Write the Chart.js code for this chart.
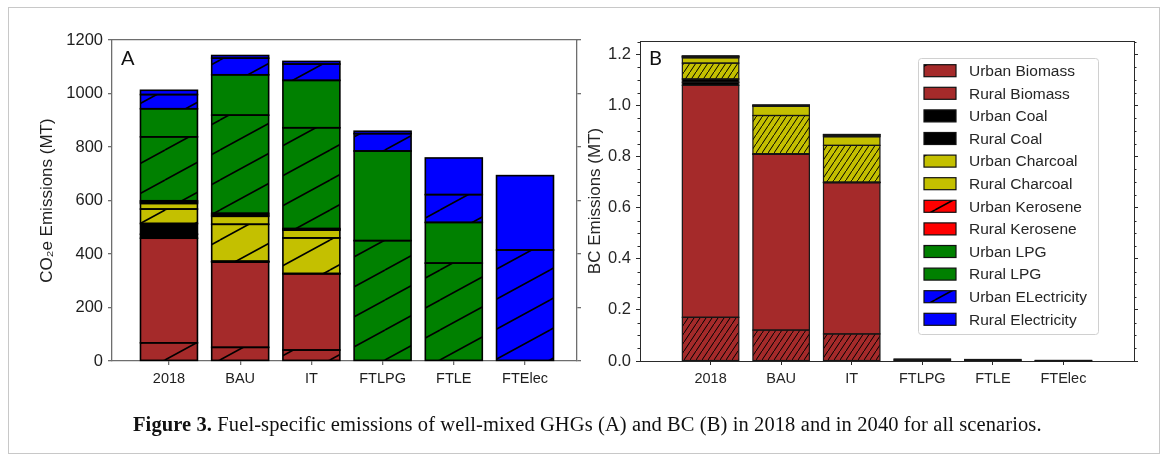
<!DOCTYPE html>
<html>
<head>
<meta charset="utf-8">
<script src="https://cdn.jsdelivr.net/npm/chart.js@4.4.1/dist/chart.umd.min.js"></script>
<style>
  html, body { margin: 0; padding: 0; background: #fff; }
  body { width: 1168px; height: 461px; position: relative; overflow: hidden; font-family: "Liberation Sans", Arial, sans-serif; }
  .frame { position: absolute; left: 8px; top: 7px; width: 1152px; height: 447px; border: 1px solid #c8c8c8; box-sizing: border-box; }
  .layer { position: absolute; left: 0; top: 0; width: 1168px; height: 461px; }
  .tag { position: absolute; font-family: Lato, "Open Sans", sans-serif; font-size: 20px; line-height: 20px; color: #111; }
  .caption { position: absolute; left: 133px; top: 412px; font-family: "Liberation Serif", "DejaVu Serif", serif; font-size: 20.5px; letter-spacing: 0.1px; line-height: 24px; color: #111; white-space: nowrap; }
</style>
</head>
<body>
<div class="frame"></div>
<div class="layer"><canvas id="chartA" width="1168" height="461"></canvas></div>
<div class="layer"><canvas id="chartB" width="1168" height="461"></canvas></div>
<div class="tag" style="left:121px; top:47px;">A</div>
<div class="tag" style="left:649px; top:47px;">B</div>
<div class="caption"><b>Figure 3.</b> Fuel-specific emissions of well-mixed GHGs (A) and BC (B) in 2018 and in 2040 for all scenarios.</div>

<script>
// ---- categories and labels ----
const categories = ['2018', 'BAU', 'IT', 'FTLPG', 'FTLE', 'FTElec'];
const fuelLabels = ['Urban Biomass', 'Rural Biomass', 'Urban Coal', 'Rural Coal',
                    'Urban Charcoal', 'Rural Charcoal', 'Urban Kerosene', 'Rural Kerosene',
                    'Urban LPG', 'Rural LPG', 'Urban ELectricity', 'Rural Electricity'];
const co2Ticks = [0, 200, 400, 600, 800, 1000, 1200];
const bcTicks = [0, 0.2, 0.4, 0.6, 0.8, 1.0, 1.2];

// ---- CO2e emissions (MT), panel A ----
const urbanBiomassCO2   = [68, 51, 41, 0, 0, 0];
const ruralBiomassCO2   = [391, 319, 285, 0, 0, 0];
const urbanCoalCO2      = [15, 1, 0, 0, 0, 0];
const ruralCoalCO2      = [40, 2, 1, 0, 0, 0];
const urbanCharcoalCO2  = [54, 138, 133, 0, 0, 0];
const ruralCharcoalCO2  = [21, 30, 29, 0, 0, 0];
const urbanKeroseneCO2  = [5, 5, 3, 0, 0, 0];
const ruralKeroseneCO2  = [5, 6, 3, 0, 0, 0];
const urbanLPGCO2       = [239, 367, 377, 450, 366, 0];
const ruralLPGCO2       = [105, 151, 177, 335, 152, 0];
const urbanElecCO2      = [53, 62, 61, 65, 104, 415];
const ruralElecCO2      = [16, 10, 10, 9, 137, 278];

// ---- BC emissions (MT), panel B ----
const urbanBiomassBC    = [0.171, 0.121, 0.106, 0, 0, 0];
const ruralBiomassBC    = [0.908, 0.688, 0.592, 0, 0, 0];
const urbanCoalBC       = [0.012, 0.001, 0.001, 0, 0, 0];
const ruralCoalBC       = [0.013, 0.001, 0.001, 0, 0, 0];
const urbanCharcoalBC   = [0.062, 0.150, 0.144, 0, 0, 0];
const ruralCharcoalBC   = [0.021, 0.036, 0.034, 0, 0, 0];
const urbanKeroseneBC   = [0.003, 0.002, 0.003, 0, 0, 0];
const ruralKeroseneBC   = [0.003, 0.002, 0.004, 0, 0, 0];
const urbanLPGBC        = [0.0005, 0.0005, 0.001, 0.004, 0.003, 0];
const ruralLPGBC        = [0.0005, 0.0005, 0.001, 0.004, 0.003, 0];
const urbanElecBC       = [0, 0, 0, 0, 0, 0.001];
const ruralElecBC       = [0, 0, 0, 0, 0, 0.001];

const co2Series = [urbanBiomassCO2, ruralBiomassCO2, urbanCoalCO2, ruralCoalCO2,
                   urbanCharcoalCO2, ruralCharcoalCO2, urbanKeroseneCO2, ruralKeroseneCO2,
                   urbanLPGCO2, ruralLPGCO2, urbanElecCO2, ruralElecCO2];
const bcSeries = [urbanBiomassBC, ruralBiomassBC, urbanCoalBC, ruralCoalBC,
                  urbanCharcoalBC, ruralCharcoalBC, urbanKeroseneBC, ruralKeroseneBC,
                  urbanLPGBC, ruralLPGBC, urbanElecBC, ruralElecBC];

// ---- styling ----
const fuelColors = ['#a52a2a', '#a52a2a', '#000000', '#000000', '#c4c000', '#c4c000',
                    '#ff0000', '#ff0000', '#008000', '#008000', '#0000ff', '#0000ff'];
const FONT = "'Liberation Sans', Arial, sans-serif";
Chart.defaults.font.family = FONT;

// diagonal hatch tile: one line from bottom-left to top-right per tile
function makeHatch(color, w, h, lw) {
  const c = document.createElement('canvas');
  c.width = w; c.height = h;
  const g = c.getContext('2d');
  g.fillStyle = color;
  g.fillRect(0, 0, w, h);
  g.strokeStyle = '#000';
  g.lineWidth = lw;
  g.beginPath();
  for (const k of [-1, 0, 1]) {
    g.moveTo(0, h + k * h);
    g.lineTo(w, k * h);
  }
  g.stroke();
  return g.createPattern(c, 'repeat');
}
const sparseHatch = (col) => makeHatch(col, 55, 30, 1.6);
const denseHatch = (col) => makeHatch(col, 6, 9, 1);

function buildDatasets(series, hatchFn) {
  return fuelLabels.map((label, k) => ({
    label,
    data: series[k].map((v, i) => ({ x: i, y: v })),
    backgroundColor: label.startsWith('Urban') ? hatchFn(fuelColors[k]) : fuelColors[k],
    legendFill: label.startsWith('Urban') ? sparseHatch(fuelColors[k]) : fuelColors[k],
    borderWidth: 0,
    inflateAmount: 0,
    barPercentage: 0.8,
    categoryPercentage: 1.0
  }));
}

function fixedTicks(values) {
  return (scale) => { scale.ticks = values.map(v => ({ value: v })); };
}

function makeScales(cfg) {
  const ax = cfg.axisColor;
  return {
    x: {
      type: 'linear', position: 'bottom', stacked: true, offset: false,
      min: cfg.xMin, max: cfg.xMax,
      afterBuildTicks: fixedTicks(categories.map((_, i) => i)),
      afterFit: (s) => { s.height = 30; },
      ticks: { callback: (v) => categories[v], autoSkip: false, maxRotation: 0, padding: 5,
               color: cfg.textColor, font: { size: 14.5 } },
      grid: { offset: false, drawOnChartArea: false, drawTicks: true, tickLength: 4, color: ax, lineWidth: cfg.axisWidth },
      border: { display: true, color: ax, width: cfg.axisWidth }
    },
    xTop: {
      type: 'linear', position: 'top', min: cfg.xMin, max: cfg.xMax, offset: false,
      afterFit: (s) => { s.height = 0; },
      ticks: { display: false },
      grid: { display: false },
      border: { display: true, color: ax, width: cfg.axisWidth }
    },
    y: {
      type: 'linear', position: 'left', stacked: true,
      min: 0, max: cfg.yMax,
      afterBuildTicks: fixedTicks(cfg.yTicks),
      afterFit: (s) => { s.width = cfg.yWidth; },
      title: { display: true, text: cfg.yTitle, color: cfg.textColor, font: { size: 17 }, padding: { top: 4, bottom: 4 } },
      ticks: { callback: cfg.tickFmt, padding: 5, color: cfg.textColor, font: { size: 16.5 } },
      grid: { drawOnChartArea: false, drawTicks: true, tickLength: 4, color: ax, lineWidth: cfg.axisWidth },
      border: { display: true, color: ax, width: cfg.axisWidth }
    },
    yRight: {
      type: 'linear', position: 'right',
      min: 0, max: cfg.yMax,
      afterBuildTicks: fixedTicks(cfg.yTicks),
      afterFit: (s) => { s.width = 10; },
      ticks: { display: false },
      grid: { drawOnChartArea: false, drawTicks: true, tickLength: 4, color: ax, lineWidth: cfg.axisWidth },
      border: { display: true, color: ax, width: cfg.axisWidth }
    }
  };
}

// outline every non-empty bar segment with a centred edge line
const barEdges = {
  id: 'barEdges',
  afterDatasetsDraw(chart, args, opts) {
    const ctx = chart.ctx;
    ctx.save();
    ctx.strokeStyle = opts.color;
    ctx.lineWidth = opts.width;
    chart.data.datasets.forEach((ds, i) => {
      const meta = chart.getDatasetMeta(i);
      meta.data.forEach((bar, j) => {
        if (!ds.data[j].y) return;
        const { x, y, base, width } = bar.getProps(['x', 'y', 'base', 'width'], true);
        ctx.strokeRect(x - width / 2, Math.min(y, base), width, Math.abs(base - y));
      });
    });
    ctx.restore();
  }
};

// small minor tick marks on both vertical axes of panel B
const minorTicks = {
  id: 'minorTicks',
  afterDraw(chart, args, opts) {
    if (!opts.step) return;
    const { ctx, chartArea, scales } = chart;
    const y = scales.y;
    ctx.save();
    ctx.strokeStyle = opts.color;
    ctx.lineWidth = 1;
    for (let v = opts.step; v < y.max; v += opts.step) {
      const r = Math.round(v / 0.2 * 1000) / 1000;
      if (Math.abs(r - Math.round(r)) < 1e-6) continue;
      const py = Math.round(y.getPixelForValue(v)) + 0.5;
      ctx.beginPath();
      ctx.moveTo(chartArea.left - 2.5, py); ctx.lineTo(chartArea.left, py);
      ctx.moveTo(chartArea.right, py); ctx.lineTo(chartArea.right + 2.5, py);
      ctx.stroke();
    }
    ctx.restore();
  }
};

// boxed legend drawn inside panel B
const boxLegend = {
  id: 'boxLegend',
  afterDraw(chart, args, opts) {
    if (!opts.show) return;
    const ctx = chart.ctx;
    const { x, y, w, h, rowH, firstRow, swX, swW, swH, textX } = opts;
    ctx.save();
    ctx.fillStyle = 'rgba(255,255,255,0.85)';
    ctx.strokeStyle = '#d0d0d0';
    ctx.lineWidth = 1;
    ctx.beginPath();
    ctx.roundRect(x + 0.5, y + 0.5, w, h, 3);
    ctx.fill(); ctx.stroke();
    chart.data.datasets.forEach((ds, i) => {
      const cy = firstRow + i * rowH;
      ctx.fillStyle = ds.legendFill;
      ctx.fillRect(swX, cy - swH / 2, swW, swH);
      ctx.strokeStyle = '#111';
      ctx.lineWidth = 1.2;
      ctx.strokeRect(swX, cy - swH / 2, swW, swH);
      ctx.fillStyle = '#262626';
      ctx.font = '15.5px ' + FONT;
      ctx.textBaseline = 'middle';
      ctx.textAlign = 'left';
      ctx.fillText(ds.label, textX, cy + 1);
    });
    ctx.restore();
  }
};

const common = {
  responsive: false,
  animation: false,
  devicePixelRatio: 1,
  events: []
};

// Panel A: CO2e emissions
new Chart(document.getElementById('chartA'), {
  type: 'bar',
  data: { datasets: buildDatasets(co2Series, sparseHatch) },
  plugins: [barEdges, minorTicks, boxLegend],
  options: Object.assign({}, common, {
    layout: { autoPadding: false, padding: { left: 33, right: 581, top: 40, bottom: 70 } },
    scales: makeScales({
      xMin: -0.8, xMax: 5.73, yMax: 1200, yTicks: co2Ticks, yWidth: 79,
      yTitle: 'CO\u2082e Emissions (MT)', tickFmt: (v) => String(v),
      axisColor: '#6e6e6e', axisWidth: 1.3, textColor: '#1e1e1e'
    }),
    plugins: { legend: { display: false }, tooltip: { enabled: false },
               barEdges: { color: '#000', width: 1.6 },
               minorTicks: { step: 0 }, boxLegend: { show: false } }
  })
});

// Panel B: black carbon emissions
new Chart(document.getElementById('chartB'), {
  type: 'bar',
  data: { datasets: buildDatasets(bcSeries, denseHatch) },
  plugins: [barEdges, minorTicks, boxLegend],
  options: Object.assign({}, common, {
    layout: { autoPadding: false, padding: { left: 581, right: 24, top: 41, bottom: 70 } },
    scales: makeScales({
      xMin: -1, xMax: 6, yMax: 1.2527, yTicks: bcTicks, yWidth: 59,
      yTitle: 'BC Emissions (MT)', tickFmt: (v) => Number(v).toFixed(1),
      axisColor: '#2a2a2a', axisWidth: 1, textColor: '#262626'
    }),
    plugins: { legend: { display: false }, tooltip: { enabled: false },
               barEdges: { color: '#161616', width: 1.2 },
               minorTicks: { step: 0.05, color: '#2a2a2a' },
               boxLegend: { show: true, x: 918, y: 58, w: 180, h: 276, rowH: 22.6, firstRow: 70.7,
                            swX: 924, swW: 32, swH: 12, textX: 969 } }
  })
});
</script>
</body>
</html>
